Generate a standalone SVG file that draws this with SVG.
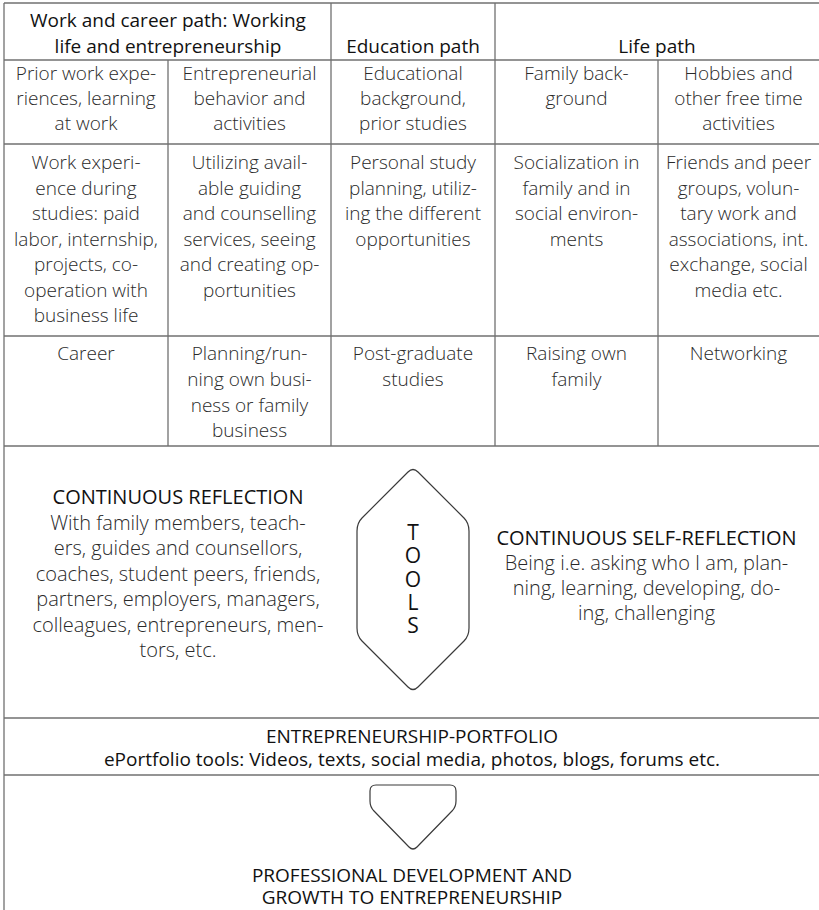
<svg xmlns="http://www.w3.org/2000/svg" width="819" height="910" viewBox="0 0 819 910">
<style>
  .grid{stroke:#707070;stroke-width:1.3;fill:none}
  .shape{stroke:#3a3a3a;stroke-width:1.2;fill:none}
  .h{font-family:"Open Sans","Noto Sans",sans-serif;font-size:19px;fill:#111;text-anchor:middle}
  .hb{font-family:"Open Sans","Noto Sans",sans-serif;font-size:20px;fill:#111;text-anchor:middle}
  .b{font-family:"Open Sans","Noto Sans",sans-serif;font-size:19px;font-weight:300;fill:#2a2a2a;text-anchor:middle}
  .bb{font-family:"Open Sans","Noto Sans",sans-serif;font-size:20px;font-weight:300;fill:#2a2a2a;text-anchor:middle}
  .t{font-family:"Open Sans","Noto Sans",sans-serif;font-size:21px;fill:#111;text-anchor:middle}
</style>
<rect width="819" height="910" fill="#fff"/>
<g id="connectors" class="grid">
  <line x1="4" y1="3" x2="819" y2="3"/>
  <line x1="4" y1="60" x2="819" y2="60"/>
  <line x1="4" y1="144" x2="819" y2="144"/>
  <line x1="4" y1="336" x2="819" y2="336"/>
  <line x1="4" y1="446" x2="819" y2="446"/>
  <line x1="4" y1="718" x2="819" y2="718"/>
  <line x1="4" y1="775" x2="819" y2="775"/>
  <line x1="4" y1="3" x2="4" y2="910"/>
  <line x1="168" y1="60" x2="168" y2="446"/>
  <line x1="331" y1="3" x2="331" y2="446"/>
  <line x1="495" y1="3" x2="495" y2="446"/>
  <line x1="658" y1="60" x2="658" y2="446"/>
</g>
<g id="h-work"><text class="h" x="168" y="27">Work and career path: Working</text><text class="h" x="168" y="53">life and entrepreneurship</text></g>
<g id="h-education"><text class="h" x="413" y="53">Education path</text></g>
<g id="h-life"><text class="h" x="657" y="53">Life path</text></g>

<g id="r1c1"><text class="b" x="86" y="80">Prior work expe-</text><text class="b" x="86" y="105">riences, learning</text><text class="b" x="86" y="130">at work</text></g>
<g id="r1c2"><text class="b" x="249.5" y="80">Entrepreneurial</text><text class="b" x="249.5" y="105">behavior and</text><text class="b" x="249.5" y="130">activities</text></g>
<g id="r1c3"><text class="b" x="413" y="80">Educational</text><text class="b" x="413" y="105">background,</text><text class="b" x="413" y="130">prior studies</text></g>
<g id="r1c4"><text class="b" x="576.5" y="80">Family back-</text><text class="b" x="576.5" y="105">ground</text></g>
<g id="r1c5"><text class="b" x="738.5" y="80">Hobbies and</text><text class="b" x="738.5" y="105">other free time</text><text class="b" x="738.5" y="130">activities</text></g>

<g id="r2c1"><text class="b" x="86" y="169">Work experi-</text><text class="b" x="86" y="194.5">ence during</text><text class="b" x="86" y="220">studies: paid</text><text class="b" x="86" y="245.5">labor, internship,</text><text class="b" x="86" y="271">projects, co-</text><text class="b" x="86" y="296.5">operation with</text><text class="b" x="86" y="322">business life</text></g>
<g id="r2c2"><text class="b" x="249.5" y="169">Utilizing avail-</text><text class="b" x="249.5" y="194.5">able guiding</text><text class="b" x="249.5" y="220">and counselling</text><text class="b" x="249.5" y="245.5">services, seeing</text><text class="b" x="249.5" y="271">and creating op-</text><text class="b" x="249.5" y="296.5">portunities</text></g>
<g id="r2c3"><text class="b" x="413" y="169">Personal study</text><text class="b" x="413" y="194.5">planning, utiliz-</text><text class="b" x="413" y="220">ing the different</text><text class="b" x="413" y="245.5">opportunities</text></g>
<g id="r2c4"><text class="b" x="576.5" y="169">Socialization in</text><text class="b" x="576.5" y="194.5">family and in</text><text class="b" x="576.5" y="220">social environ-</text><text class="b" x="576.5" y="245.5">ments</text></g>
<g id="r2c5"><text class="b" x="738.5" y="169">Friends and peer</text><text class="b" x="738.5" y="194.5">groups, volun-</text><text class="b" x="738.5" y="220">tary work and</text><text class="b" x="738.5" y="245.5">associations, int.</text><text class="b" x="738.5" y="271">exchange, social</text><text class="b" x="738.5" y="296.5">media etc.</text></g>

<g id="r3c1"><text class="b" x="86" y="360">Career</text></g>
<g id="r3c2"><text class="b" x="249.5" y="360">Planning/run-</text><text class="b" x="249.5" y="386">ning own busi-</text><text class="b" x="249.5" y="412">ness or family</text><text class="b" x="249.5" y="437">business</text></g>
<g id="r3c3"><text class="b" x="413" y="360">Post-graduate</text><text class="b" x="413" y="386">studies</text></g>
<g id="r3c4"><text class="b" x="576.5" y="360">Raising own</text><text class="b" x="576.5" y="386">family</text></g>
<g id="r3c5"><text class="b" x="738.5" y="360">Networking</text></g>

<g id="reflection">
  <text class="hb" x="178" y="504">CONTINUOUS REFLECTION</text>
  <text class="bb" x="178" y="529.5">With family members, teach-</text>
  <text class="bb" x="178" y="555">ers, guides and counsellors,</text>
  <text class="bb" x="178" y="580.5">coaches, student peers, friends,</text>
  <text class="bb" x="178" y="606">partners, employers, managers,</text>
  <text class="bb" x="178" y="631.5">colleagues, entrepreneurs, men-</text>
  <text class="bb" x="178" y="657">tors, etc.</text>
</g>
<g id="tools">
  <path class="shape" d="M 408,472 Q 413,467 418,472 L 464,518 Q 469,523 469,531 L 469,628 Q 469,636 464,641 L 418,687 Q 413,692 408,687 L 362,641 Q 357,636 357,628 L 357,531 Q 357,523 362,518 Z"/>
  <text class="t"><tspan x="413" y="540">T</tspan><tspan x="413" y="563.3">O</tspan><tspan x="413" y="586.5">O</tspan><tspan x="413" y="609.8">L</tspan><tspan x="413" y="633">S</tspan></text>
</g>
<g id="self-reflection">
  <text class="hb" x="646.5" y="545">CONTINUOUS SELF-REFLECTION</text>
  <text class="bb" x="646.5" y="570">Being i.e. asking who I am, plan-</text>
  <text class="bb" x="646.5" y="595">ning, learning, developing, do-</text>
  <text class="bb" x="646.5" y="620">ing, challenging</text>
</g>
<g id="portfolio">
  <text class="h" x="412" y="743">ENTREPRENEURSHIP-PORTFOLIO</text>
  <text class="h" x="412" y="766">ePortfolio tools: Videos, texts, social media, photos, blogs, forums etc.</text>
</g>
<g id="growth">
  <path class="shape" d="M 376,785 L 450,785 Q 456,785 456,791 L 456,801 Q 456,807 452,811 L 417,847 Q 413,851 409,847 L 374,811 Q 370,807 370,801 L 370,791 Q 370,785 376,785 Z"/>
  <text class="h" x="412" y="882">PROFESSIONAL DEVELOPMENT AND</text>
  <text class="h" x="412" y="904">GROWTH TO ENTREPRENEURSHIP</text>
</g>
</svg>
